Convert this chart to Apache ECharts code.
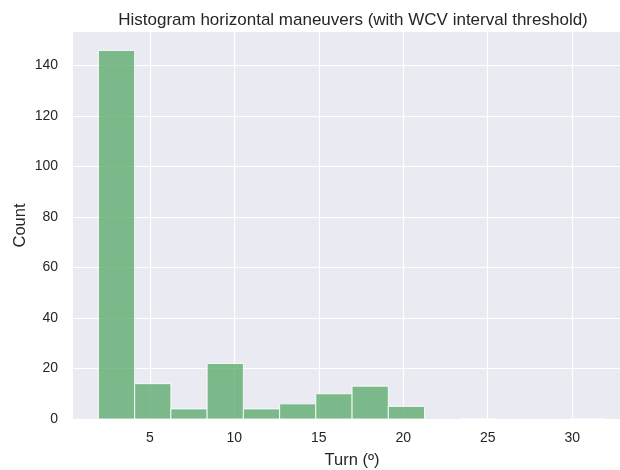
<!DOCTYPE html>
<html>
<head>
<meta charset="utf-8">
<script src="https://cdn.jsdelivr.net/npm/echarts@6/dist/echarts.min.js"></script>
<style>
  html, body { margin: 0; padding: 0; background: #ffffff; }
  #chart { width: 620px; height: 470px; }
</style>
</head>
<body>
<div id="chart"></div>
<script>
// Histogram bins: 14 equal-width bins over the turn angle range (degrees)
const binStart = 1.955;
const binWidth = 2.145;
const counts = [146, 14, 4, 22, 4, 6, 10, 13, 5, null, 0, null, null, 0];
const xTicks = [5, 10, 15, 20, 25, 30];
const yTicks = [0, 20, 40, 60, 80, 100, 120, 140];
const xRange = [0.45, 33.48];
const yRange = [0, 153.3];

const binData = [];
counts.forEach(function (c, i) {
  if (c === null) return;
  const lo = binStart + i * binWidth;
  binData.push([lo, lo + binWidth, c]);
});

const font = 'Liberation Sans, Arial, sans-serif';
const chart = echarts.init(document.getElementById('chart'), null, { renderer: 'canvas' });

chart.setOption({
  animation: false,
  backgroundColor: '#ffffff',
  title: {
    text: 'Histogram horizontal maneuvers (with WCV interval threshold)',
    left: 348,
    textAlign: 'center',
    top: 7,
    textStyle: { fontFamily: font, fontSize: 17, fontWeight: 'normal', color: '#262626' }
  },
  grid: {
    left: 73, top: 32, width: 558, height: 387,
    outerBoundsMode: 'none',
    containLabel: false,
    show: true, backgroundColor: '#eaeaf2', borderWidth: 0
  },
  xAxis: {
    type: 'value',
    min: xRange[0], max: xRange[1],
    name: 'Turn (º)',
    nameLocation: 'middle',
    nameGap: 33,
    nameTextStyle: { fontFamily: font, fontSize: 16.5, color: '#262626' },
    axisLine: { show: false },
    axisTick: { show: false, customValues: xTicks },
    axisLabel: { customValues: xTicks, fontFamily: font, fontSize: 14, color: '#262626', margin: 12 },
    splitLine: { show: true, lineStyle: { color: '#ffffff', width: 1.2 } }
  },
  yAxis: {
    type: 'value',
    min: yRange[0], max: yRange[1],
    name: 'Count',
    nameLocation: 'middle',
    nameGap: 44,
    nameMoveOverlap: false,
    nameTextStyle: { fontFamily: font, fontSize: 16.5, color: '#262626' },
    axisLine: { show: false },
    axisTick: { show: false, customValues: yTicks },
    axisLabel: { customValues: yTicks, fontFamily: font, fontSize: 14, color: '#262626', margin: 15 },
    splitLine: { show: true, lineStyle: { color: '#ffffff', width: 1.2 } }
  },
  series: [{
    type: 'custom',
    data: binData,
    encode: { x: [0, 1], y: 2 },
    renderItem: function (params, api) {
      const p0 = api.coord([api.value(0), 0]);
      const p1 = api.coord([api.value(1), api.value(2)]);
      return {
        type: 'rect',
        shape: { x: p0[0], y: p1[1], width: p1[0] - p0[0], height: p0[1] - p1[1] },
        style: { fill: 'rgba(85,168,104,0.75)', stroke: 'rgba(255,255,255,0.85)', lineWidth: 1 }
      };
    }
  }]
});
</script>
</body>
</html>
